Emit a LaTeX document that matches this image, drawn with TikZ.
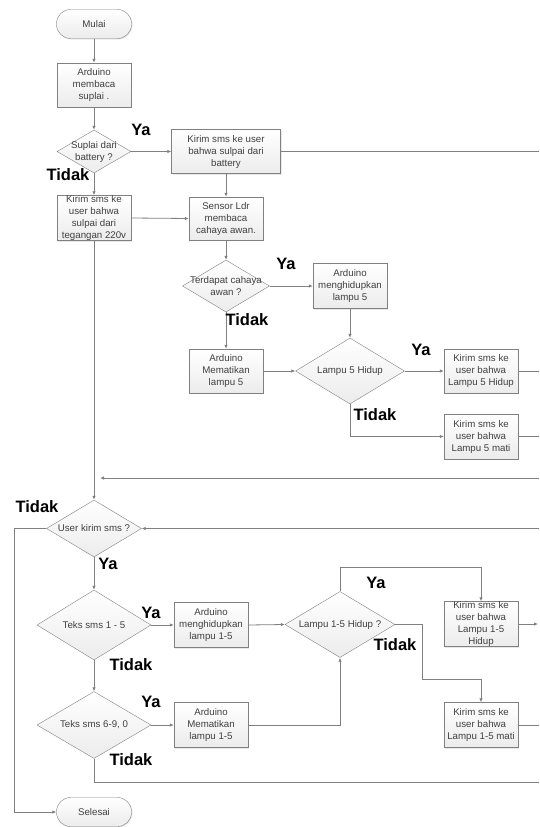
\documentclass[tikz,border=0pt]{standalone}
\usepackage{fontspec}
\setmainfont{Liberation Sans}
\usepackage{tikz}
\usetikzlibrary{positioning, arrows.meta, shapes.geometric, shadows}
\definecolor{lineGray}{RGB}{128,128,128}
\definecolor{textGray}{RGB}{64,64,64}

\begin{document}
\begin{tikzpicture}[
        x=1pt, y=-1pt,
        every node/.style={font=\fontsize{9.7}{12}\selectfont, text=textGray},
        process/.style={rectangle, draw=lineGray, top color=white, bottom color=gray!15, minimum width=74pt, minimum height=44pt, inner sep=0pt, align=center, drop shadow={opacity=0.18, shadow xshift=1pt, shadow yshift=-1pt}},
        terminal/.style={process, rounded corners=14pt, minimum width=75pt, minimum height=29pt},
        decision/.style={diamond, draw=lineGray, top color=white, bottom color=gray!15, inner sep=0pt},
        dtext/.style={align=center, inner sep=0pt},
        answer/.style={font=\fontsize{16.5}{18}\selectfont\bfseries, text=black, inner sep=0pt},
        flow/.style={draw=lineGray, line width=0.8pt, -{Latex[length=4pt, width=3.5pt]}},
        plain/.style={draw=lineGray, line width=0.8pt}
    ]
    \useasboundingbox (0,0) rectangle (539,827);

    % Start and power check
    \node[terminal] (mulai) at (94,24) {Mulai};
    \node[process] (baca) at (94,85) {Arduino\\membaca\\suplai .};
    \node[decision, minimum width=74pt, minimum height=43pt, label={[dtext]center:Suplai dari\\battery ?}] (dSuplai) at (94,151.5) {};
    \node[process, minimum width=109pt] (smsBatt) at (226,151.5) {Kirim sms ke user\\bahwa sulpai dari\\battery};
    \node[process] (sms220) at (94,218) {Kirim sms ke\\user bahwa\\sulpai dari\\tegangan 220v};
    \node[process, minimum height=43pt] (sensor) at (226,218.5) {Sensor Ldr\\membaca\\cahaya awan.};

    % Lamp 5 from the LDR
    \node[decision, minimum width=87pt, minimum height=52pt, label={[dtext]center:Terdapat cahaya\\awan ?}] (dCahaya) at (226,286) {};
    \node[process, minimum height=45pt] (hidup5) at (350,286) {Arduino\\menghidupkan\\lampu 5};
    \node[process] (mati5) at (226,371) {Arduino\\Mematikan\\lampu 5};
    \node[decision, minimum width=109pt, minimum height=66pt, label={[dtext]center:Lampu 5 Hidup}] (dLampu5) at (350,371) {};
    \node[process] (smsHidup5) at (481,371) {Kirim sms ke\\user bahwa\\Lampu 5 Hidup};
    \node[process, minimum height=45pt] (smsMati5) at (481,436.5) {Kirim sms ke\\user bahwa\\Lampu 5 mati};

    % SMS commands
    \node[decision, minimum width=95pt, minimum height=57pt, label={[dtext]center:User kirim sms ?}] (dUser) at (94,528.5) {};
    \node[decision, minimum width=114pt, minimum height=70pt, label={[dtext]center:Teks sms 1 - 5}] (dTeks15) at (94,625) {};
    \node[process, minimum height=45pt] (hidup15) at (211,625) {Arduino\\menghidupkan\\lampu 1-5};
    \node[decision, minimum width=110pt, minimum height=66pt, label={[dtext]center:Lampu 1-5 Hidup ?}] (dLampu15) at (340,624.5) {};
    \node[process, minimum height=45pt] (smsHidup15) at (481,624) {Kirim sms ke\\user bahwa\\Lampu 1-5\\Hidup};
    \node[process, minimum height=45pt] (smsMati15) at (481,725) {Kirim sms ke\\user bahwa\\Lampu 1-5 mati};
    \node[decision, minimum width=114pt, minimum height=67pt, label={[dtext]center:Teks sms 6-9, 0}] (dTeks69) at (94,725) {};
    \node[process, minimum height=45pt] (mati15) at (211,725) {Arduino\\Mematikan\\lampu 1-5};
    \node[terminal] (selesai) at (94,812) {Selesai};

    % Free ends at the right edge and bends
    \coordinate (edgeA) at (539,151.5);
    \coordinate (edgeB) at (539,371);
    \coordinate (edgeC) at (539,436.5);
    \coordinate (edgeD) at (539,478);
    \coordinate (join) at (100,478);
    \coordinate (edgeE) at (539,528.5);
    \coordinate (edgeF) at (538,624);
    \coordinate (edgeG) at (539,725);
    \coordinate (edgeH) at (539,782);
    \coordinate (leftBend) at (14,528.5);
    \coordinate (yaBend) at (340,567);
    \coordinate (tidakBend) at (422,679);
    \coordinate (bottomBend) at (94,782);

    % Connectors
    \draw[flow] (mulai) -- (baca);
    \draw[flow] (baca) -- (dSuplai);
    \draw[flow] (dSuplai.east) -- (smsBatt.west);
    \draw[flow] (dSuplai.south) -- (sms220.north);
    \draw[plain] (smsBatt.east) -- (edgeA);
    \draw[flow] (smsBatt.south) -- (sensor.north);
    \draw[flow] (sms220.east) -- (sensor.west);
    \draw[flow] (sms220.south) -- (dUser.north);
    \draw[flow] (sensor.south) -- (dCahaya.north);
    \draw[flow] (dCahaya.east) -- (hidup5.west);
    \draw[flow] (dCahaya.south) -- (mati5.north);
    \draw[flow] (hidup5.south) -- (dLampu5.north);
    \draw[flow] (mati5.east) -- (dLampu5.west);
    \draw[flow] (dLampu5.east) -- (smsHidup5.west);
    \draw[flow] (dLampu5.south) |- (smsMati5.west);
    \draw[plain] (smsHidup5.east) -- (edgeB);
    \draw[plain] (smsMati5.east) -- (edgeC);
    \draw[flow] (edgeD) -- (join);
    \draw[flow] (edgeE) -- (dUser.east);
    \draw[flow] (dUser.west) -- (leftBend) |- (selesai.west);
    \draw[flow] (dUser.south) -- (dTeks15.north);
    \draw[flow] (dTeks15.east) -- (hidup15.west);
    \draw[flow] (dTeks15.south) -- (dTeks69.north);
    \draw[flow] (hidup15.east) -- (dLampu15.west);
    \draw[flow] (dLampu15.north) -- (yaBend) -| (smsHidup15.north);
    \draw[flow] (dLampu15.east) -| (tidakBend) -| (smsMati15.north);
    \draw[flow] (smsHidup15.east) -- (edgeF);
    \draw[plain] (smsMati15.east) -- (edgeG);
    \draw[flow] (dTeks69.east) -- (mati15.west);
    \draw[flow] (mati15.east) -| (dLampu15.south);
    \draw[plain] (dTeks69.south) -- (bottomBend) -- (edgeH);

    % Ya / Tidak answers
    \foreach \x/\y/\t [count=\i] in {141/130/Ya, 68/175/Tidak, 286/264/Ya, 247/320/Tidak, 421/350/Ya, 375/415/Tidak, 37/507/Tidak, 108/564/Ya, 151/613/Ya, 131/665/Tidak, 376/583/Ya, 395/645/Tidak, 151/702/Ya, 131/760/Tidak} {
        \node[answer] (ans\i) at (\x,\y) {\t};
    }
\end{tikzpicture}
\end{document}
